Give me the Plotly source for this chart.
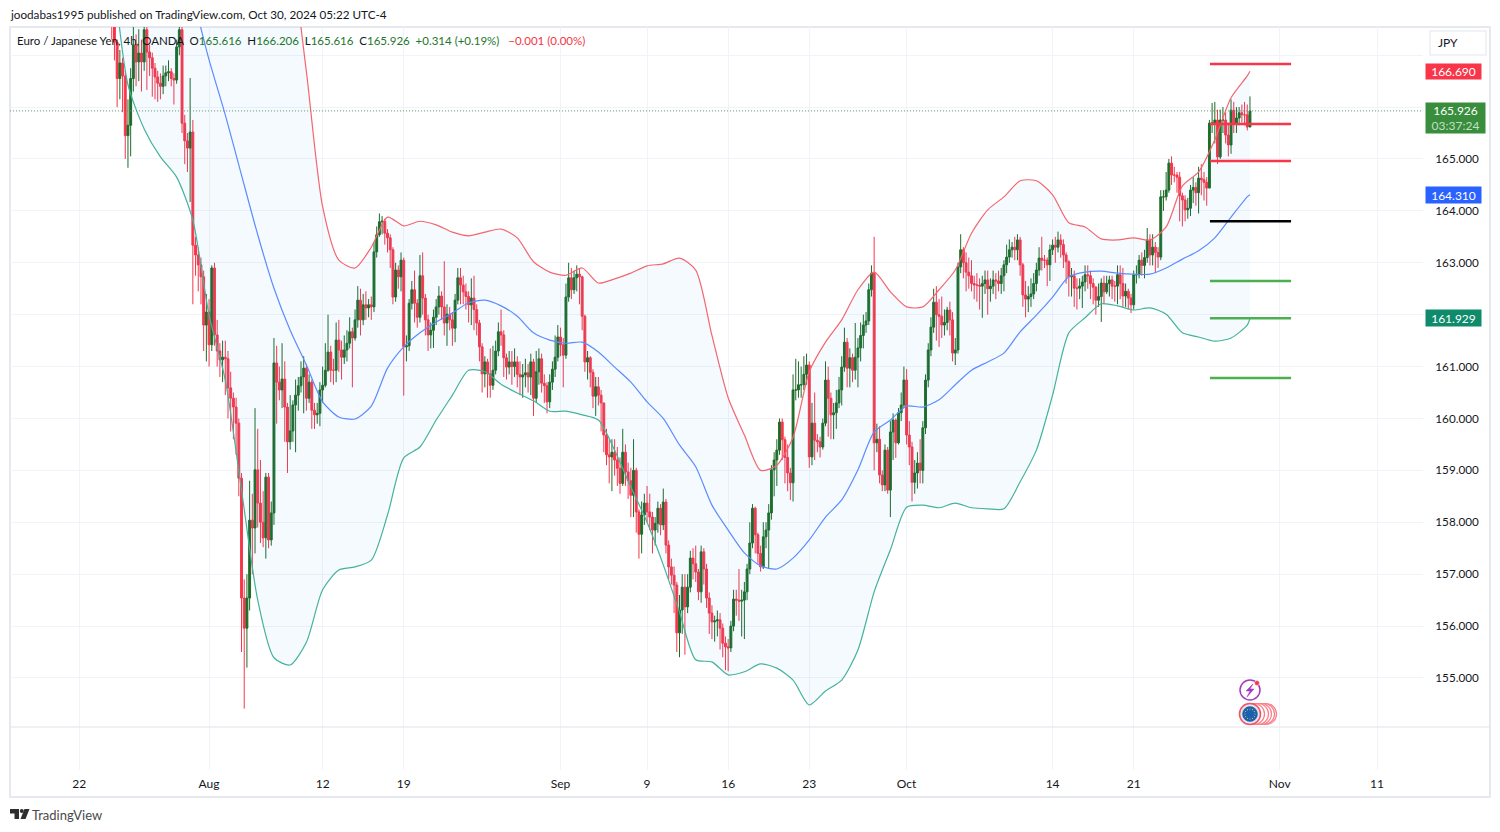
import math

import plotly.graph_objects as go

W, H = 1500, 832

# 4h bars, index 0 = Jul 22 (30 bars per trading week), first visible bar is 12
first_bar = 12
first_open = 168.1
closes = [
    167.85, 167.25, 166.55, 166.85, 166.6, 165.45, 165.65, 166.55, 167.2, 166.87, 167.04, 166.87, 167.49, 167.06, 166.95, 166.75, 166.58, 166.46,
    166.4, 166.6, 166.66, 166.68, 166.55, 166.52, 167.16, 167.49, 165.69, 165.35, 165.21, 165.52, 163.34, 163.15, 162.96, 162.73, 161.8, 162.05, 161.42, 162.9, 161.61, 161.3, 161.13, 161.18, 161.15, 160.59, 160.39, 160.22, 159.91, 158.85,
    156.54, 155.96, 156.54, 158.04, 157.89, 159.01, 158.37, 158.0, 157.7, 158.87, 157.66, 158.18, 161.07, 160.7, 160.55, 160.76, 160.22, 159.55, 159.76, 160.26, 160.45, 160.63, 160.8, 160.97, 160.39, 160.7, 160.16, 160.07, 160.1, 160.55,
    160.64, 160.93, 161.28, 160.93, 160.93, 161.51, 161.32, 161.18, 161.32, 161.45, 161.67, 161.55, 161.9, 162.28, 161.9, 162.19, 162.13, 162.19, 162.15, 163.21, 163.54, 163.79, 163.8, 163.57, 163.48, 163.25, 162.34, 162.86, 162.73, 163.05,
    161.38, 161.4, 162.22, 162.48, 162.22, 161.95, 162.75, 162.32, 161.9, 161.61, 161.7, 161.95, 162.15, 162.36, 162.15, 161.84, 162.01, 161.9, 161.74, 162.28, 162.71, 162.57, 162.44, 162.35, 162.19, 162.32, 162.1, 161.84, 161.38, 160.86,
    161.09, 160.86, 160.64, 160.93, 161.3, 161.67, 161.61, 161.17, 160.99, 161.09, 161.0, 161.09, 160.85, 160.8, 160.84, 160.88, 160.8, 161.09, 160.39, 160.9, 161.15, 160.68, 160.63, 160.32, 160.7, 160.95, 161.18, 161.57, 161.42, 161.22,
    162.34, 162.71, 162.48, 162.71, 162.78, 162.73, 161.97, 161.09, 161.17, 160.89, 160.43, 160.61, 160.45, 160.3, 159.68, 159.3, 159.26, 159.35, 159.2, 159.04, 158.75, 159.35, 158.97, 158.8, 158.52, 159.0, 158.2, 157.77, 158.14, 158.37,
    158.2, 158.1, 157.85, 157.98, 158.27, 157.95, 158.39, 157.56, 157.14, 156.98, 156.79, 155.87, 156.31, 156.75, 156.37, 156.75, 157.31, 157.2, 157.04, 156.66, 157.43, 157.1, 156.54, 156.25, 156.08, 156.1, 156.12, 155.96, 155.67, 155.6,
    155.58, 156.0, 156.52, 156.5, 156.48, 156.5, 156.66, 157.1, 157.6, 158.27, 157.76, 157.4, 157.14, 157.72, 157.85, 158.18, 159.01, 159.2, 159.39, 159.93, 159.59, 159.25, 158.95, 158.76, 160.55, 160.55, 160.65, 160.65, 160.85, 161.03,
    159.26, 159.91, 159.58, 159.55, 159.45, 159.91, 160.74, 160.39, 160.07, 160.11, 160.3, 160.55, 160.99, 161.47, 160.97, 161.17, 160.93, 161.18, 161.36, 161.6, 161.8, 161.88, 162.48, 162.8, 159.53, 159.6, 158.91, 158.72, 159.39, 158.62,
    159.74, 159.97, 159.53, 160.11, 160.26, 160.74, 159.68, 159.45, 158.77, 158.95, 159.14, 159.0, 159.82, 160.74, 161.32, 161.76, 162.24, 162.0, 161.97, 161.8, 161.85, 162.09, 161.9, 161.26, 161.32, 162.92, 163.25, 163.0, 162.82, 162.75,
    162.6, 162.57, 162.57, 162.55, 162.6, 162.67, 162.5, 162.55, 162.67, 162.65, 162.6, 162.75, 162.96, 163.11, 163.25, 163.3, 163.25, 163.44, 162.96, 162.38, 162.3, 162.35, 162.4, 162.6, 162.86, 163.09, 163.05, 163.05, 162.96, 163.25,
    163.34, 163.3, 163.44, 163.35, 163.15, 163.02, 162.73, 162.75, 162.51, 162.51, 162.55, 162.63, 162.77, 162.75, 162.6, 162.53, 162.28, 162.35, 162.61, 162.44, 162.6, 162.67, 162.55, 162.55, 162.77, 162.6, 162.36, 162.45, 162.32, 162.19,
    162.77, 162.77, 163.05, 162.95, 163.1, 163.44, 163.15, 163.3, 163.2, 163.11, 164.27, 164.27, 164.4, 164.92, 164.69, 164.69, 164.65, 164.29, 164.21, 164.02, 164.05, 164.4, 164.45, 164.35, 164.63, 164.6, 164.55, 164.44, 165.69, 165.69,
    165.75, 165.04, 165.75, 165.75, 165.46, 165.27, 165.94, 165.69, 165.79, 165.89, 165.85, 165.85, 165.616, 165.926,
]
highs = [
    168.1, 167.95, 167.3, 167.1, 166.95, 166.7, 166.15, 166.75, 167.55, 167.4, 167.5, 167.3, 167.7, 167.6, 167.2, 167.05, 166.85, 166.7,
    166.65, 166.8, 166.8, 166.9, 166.75, 166.65, 167.3, 167.9, 167.6, 165.85, 165.5, 166.56, 165.75, 163.5, 163.3, 163.1, 162.85, 162.4, 162.3, 162.95, 163.0, 161.9, 161.45, 161.5, 161.5, 161.3, 160.9, 160.5, 160.4, 160.0,
    158.95, 156.9, 157.0, 158.8, 158.55, 160.2, 159.8, 159.2, 158.6, 158.95, 158.95, 158.4, 161.55, 161.4, 161.0, 161.45, 161.1, 160.3, 160.45, 160.35, 160.75, 160.8, 161.1, 161.2, 161.05, 160.85, 160.75, 160.3, 160.3, 160.7,
    161.0, 161.45, 162.0, 161.4, 161.15, 161.85, 161.9, 161.5, 161.6, 161.7, 161.95, 161.75, 162.1, 162.55, 162.5, 162.4, 162.45, 162.3, 162.35, 163.4, 163.7, 163.95, 163.9, 163.85, 163.65, 163.55, 163.3, 163.0, 162.95, 163.2,
    163.1, 161.6, 162.3, 162.65, 162.85, 162.3, 163.15, 163.2, 162.4, 162.0, 161.85, 162.1, 162.3, 162.55, 162.45, 163.03, 162.2, 162.15, 162.05, 162.4, 162.9, 162.9, 162.75, 162.6, 162.45, 162.7, 162.75, 162.2, 161.9, 161.45,
    161.2, 161.15, 161.35, 161.4, 161.5, 161.85, 162.1, 161.7, 161.25, 161.3, 161.3, 161.35, 161.2, 161.1, 161.05, 161.15, 161.05, 161.25, 161.15, 161.3, 161.35, 161.25, 160.85, 160.7, 160.85, 161.1, 161.6, 161.8, 161.75, 161.55,
    162.6, 163.0, 162.9, 162.85, 162.95, 162.9, 162.75, 162.0, 161.3, 161.2, 160.95, 160.8, 160.8, 160.55, 160.3, 159.8, 159.6, 159.6, 159.6, 159.45, 159.25, 159.8, 159.5, 159.15, 159.05, 159.6, 159.05, 158.25, 158.4, 158.55,
    158.7, 158.55, 158.2, 158.1, 158.4, 158.35, 158.65, 158.45, 157.65, 157.3, 157.15, 156.85, 156.6, 157.0, 157.0, 157.0, 157.45, 157.5, 157.55, 157.1, 157.55, 157.5, 157.2, 156.65, 156.4, 156.2, 156.3, 156.25, 156.05, 155.8,
    155.75, 156.1, 156.7, 156.7, 157.1, 156.7, 156.85, 157.2, 158.0, 158.35, 158.3, 157.8, 157.55, 158.0, 158.0, 158.35, 159.1, 159.35, 159.6, 160.0, 160.0, 159.65, 159.5, 159.05, 160.85, 161.15, 161.1, 161.0, 161.2, 161.25,
    161.1, 160.3, 160.5, 159.7, 159.65, 160.0, 161.1, 161.0, 160.5, 160.3, 160.55, 160.8, 161.2, 161.75, 161.55, 161.35, 161.25, 161.84, 161.55, 161.85, 162.0, 162.05, 162.6, 162.95, 163.5, 159.9, 159.85, 159.0, 159.5, 159.45,
    159.95, 160.1, 160.0, 160.2, 160.5, 161.0, 160.95, 159.95, 159.55, 159.2, 159.35, 159.6, 159.95, 160.85, 161.45, 161.95, 162.5, 162.55, 162.3, 162.35, 162.1, 162.15, 162.25, 162.05, 161.55, 163.0, 163.55, 163.3, 163.2, 163.1,
    163.05, 162.75, 162.8, 162.7, 162.75, 162.85, 162.85, 162.7, 162.85, 162.8, 162.85, 162.9, 163.05, 163.35, 163.45, 163.4, 163.5, 163.55, 163.5, 163.0, 162.65, 162.55, 162.7, 162.8, 163.0, 163.3, 163.5, 163.15, 163.1, 163.35,
    163.45, 163.5, 163.6, 163.55, 163.45, 163.2, 163.05, 162.9, 162.85, 162.7, 162.7, 162.75, 162.95, 162.95, 162.85, 162.7, 162.55, 162.6, 162.7, 162.75, 162.75, 162.75, 162.75, 162.65, 162.95, 162.95, 162.9, 162.6, 162.5, 162.4,
    162.85, 162.95, 163.15, 163.2, 163.25, 163.67, 163.55, 163.55, 163.4, 163.3, 164.4, 164.4, 164.75, 165.0, 165.05, 164.85, 164.75, 164.75, 164.35, 164.3, 164.25, 164.5, 164.65, 164.55, 164.85, 164.9, 164.75, 164.65, 165.75, 166.08,
    166.1, 165.95, 165.95, 166.0, 165.9, 165.7, 166.15, 166.1, 166.0, 166.0, 166.05, 166.1, 166.05, 166.206,
]
lows = [
    167.3, 166.9, 166.0, 166.15, 165.9, 165.0, 164.83, 165.05, 166.3, 166.4, 166.5, 166.3, 166.7, 166.33, 166.6, 166.2, 166.15, 166.1,
    166.15, 166.25, 166.4, 166.5, 166.4, 166.05, 166.45, 167.0, 165.5, 164.9, 164.75, 164.17, 162.2, 162.75, 162.45, 162.2, 161.3, 161.1, 161.0, 161.3, 161.4, 161.0, 160.8, 160.7, 160.45, 160.0, 159.75, 159.6, 159.3, 158.5,
    155.5, 154.41, 155.2, 156.3, 157.0, 157.4, 157.9, 157.6, 157.52, 157.3, 157.5, 157.55, 157.95, 159.9, 160.35, 160.2, 159.55, 158.95, 159.4, 159.55, 159.35, 160.15, 160.5, 160.1, 160.15, 160.3, 159.8, 159.8, 159.9, 159.85,
    160.3, 160.6, 160.9, 160.7, 160.65, 160.7, 160.9, 160.75, 161.05, 161.1, 161.35, 160.6, 161.5, 161.75, 161.6, 161.8, 161.9, 161.95, 161.9, 162.05, 163.1, 163.5, 163.55, 163.35, 163.2, 162.9, 162.2, 162.25, 162.5, 162.45,
    160.44, 161.1, 161.3, 162.1, 161.85, 161.75, 161.85, 162.0, 161.6, 161.3, 161.35, 161.36, 161.8, 162.0, 161.9, 161.6, 161.4, 161.7, 161.4, 161.47, 162.2, 162.2, 162.2, 162.1, 161.85, 161.8, 161.7, 161.6, 161.1, 160.5,
    160.6, 160.4, 160.4, 160.55, 160.85, 161.2, 161.4, 160.8, 160.75, 160.85, 160.65, 160.8, 160.6, 160.45, 160.4, 160.6, 160.5, 160.45, 160.05, 160.3, 160.65, 160.5, 160.3, 160.1, 160.2, 160.55, 160.8, 161.1, 161.2, 160.6,
    161.15, 162.25, 162.3, 162.4, 162.45, 162.2, 161.7, 160.9, 160.75, 160.6, 160.2, 160.05, 160.25, 159.75, 159.35, 159.1, 158.75, 158.6, 158.9, 158.7, 158.55, 158.7, 158.7, 158.45, 158.1, 158.1, 157.8, 157.3, 157.4, 157.95,
    158.0, 157.85, 157.4, 157.55, 157.8, 157.75, 157.85, 157.4, 156.9, 156.8, 156.25, 155.5, 155.4, 155.85, 155.45, 156.25, 156.65, 156.9, 156.85, 156.5, 156.45, 156.8, 156.35, 155.85, 155.75, 155.7, 155.8, 155.55, 155.4, 155.15,
    155.13, 155.5, 155.9, 156.2, 156.1, 155.8, 155.75, 156.5, 157.0, 157.5, 157.4, 157.2, 157.05, 157.1, 157.5, 157.1, 158.05, 158.5, 158.7, 159.3, 159.2, 158.75, 158.6, 158.43, 158.4, 160.35, 160.4, 160.4, 160.55, 160.65,
    159.05, 159.1, 159.2, 159.35, 159.25, 159.4, 159.85, 159.65, 159.6, 159.6, 159.8, 160.2, 160.25, 160.9, 160.6, 160.6, 160.7, 160.75, 160.6, 161.1, 161.35, 161.65, 161.8, 162.35, 159.0, 159.35, 158.75, 158.6, 158.6, 158.55,
    158.1, 159.2, 159.24, 159.5, 159.95, 160.2, 159.5, 159.1, 158.4, 158.55, 158.65, 158.75, 158.75, 159.7, 160.6, 161.2, 161.65, 161.5, 161.38, 161.55, 161.6, 161.7, 161.6, 161.1, 161.03, 161.25, 162.8, 162.7, 162.45, 162.5,
    162.45, 162.3, 162.25, 162.1, 161.94, 162.4, 162.0, 162.25, 162.4, 162.3, 162.45, 162.4, 162.45, 162.8, 163.0, 163.1, 163.05, 163.05, 162.75, 162.15, 161.95, 162.05, 162.15, 162.3, 162.45, 162.75, 162.85, 162.9, 162.55, 162.65,
    163.15, 163.0, 163.2, 163.1, 162.9, 162.6, 162.35, 162.35, 162.15, 162.1, 162.3, 162.13, 162.45, 162.5, 162.3, 162.2, 162.0, 162.15, 161.86, 162.2, 162.4, 162.35, 162.3, 162.25, 162.2, 162.3, 162.15, 162.15, 162.1, 162.03,
    162.1, 162.6, 162.7, 162.75, 162.7, 163.0, 162.95, 162.95, 162.8, 162.9, 163.05, 164.0, 164.2, 164.35, 164.5, 164.55, 164.35, 163.8, 163.7, 163.8, 163.85, 163.9, 164.15, 164.1, 163.95, 164.3, 164.2, 164.1, 164.73, 165.5,
    165.3, 164.9, 165.0, 165.5, 165.3, 165.05, 165.1, 165.5, 165.5, 165.65, 165.7, 165.65, 165.55, 165.616,
]
opens = [first_open] + closes[:-1]
bar_idx = [first_bar + k for k in range(len(closes))]

# Bollinger bands, read every 6 bars
band_idx = list(range(12, 433, 6)) + [433]
band_upper = [
    173, 173, 173, 172.5, 172, 171.5, 171, 170.5, 170, 170, 170, 169,
    166.68, 164.08, 163.05, 162.9, 163.3, 163.88, 163.71, 163.8, 163.73, 163.59, 163.52, 163.59, 163.65, 163.48, 163.02, 162.82, 162.76, 162.9,
    162.61, 162.69, 162.8, 162.94, 162.98, 163.09, 162.86, 161.6, 160.4, 159.68, 159.0, 159.1, 159.64, 160.9, 161.47, 161.9, 162.48, 162.82, 162.44, 162.15,
    162.15, 162.48, 162.86, 163.57, 164.02, 164.27, 164.58, 164.58, 164.31, 163.77, 163.69, 163.46, 163.44, 163.48, 163.44, 163.69, 164.48, 164.75, 165.37, 166.18, 166.6, 166.69,
]
band_mid = [
    171, 171, 170.5, 170, 169, 168.1, 166.91, 165.85, 164.69, 163.54, 162.51, 161.7,
    161.03, 160.32, 160.03, 159.99, 160.24, 160.97, 161.38, 161.65, 161.86, 162.03, 162.23, 162.28, 162.17, 161.97, 161.65, 161.51, 161.45, 161.47,
    161.28, 160.99, 160.7, 160.32, 160.0, 159.49, 159.07, 158.33, 157.85, 157.41, 157.16, 157.1, 157.31, 157.66, 158.1, 158.43, 159.01, 159.74, 159.97, 160.24,
    160.22, 160.36, 160.65, 160.93, 161.09, 161.26, 161.67, 161.99, 162.34, 162.73, 162.82, 162.84, 162.8, 162.78, 162.78, 162.9, 163.07, 163.23, 163.48, 163.88, 164.27, 164.31,
]
band_lower = [
    168.9, 166.43, 165.58, 165.04, 164.65, 163.82, 161.99, 160.74, 158.62, 156.5, 155.39, 155.25,
    155.69, 156.7, 157.08, 157.14, 157.27, 158.14, 159.24, 159.45, 159.97, 160.45, 160.93, 160.9, 160.66, 160.49, 160.34, 160.14, 160.14, 160.07,
    159.97, 159.39, 158.68, 158.0, 157.18, 156.27, 155.35, 155.31, 155.06, 155.12, 155.27, 155.19, 154.96, 154.48, 154.75, 154.96, 155.54, 156.66, 157.47, 158.29,
    158.33, 158.28, 158.37, 158.28, 158.26, 158.26, 158.78, 159.39, 160.45, 161.65, 161.94, 162.21, 162.17, 162.09, 162.13, 162.01, 161.65, 161.57, 161.49, 161.55, 161.8, 161.93,
]

# horizontal levels drawn on the right
level_start, level_end = 418.2, 448.2
level_prices = [166.83, 165.675, 164.96, 163.80, 162.65, 161.93, 160.78]
level_colors = ["#f7364a", "#f7364a", "#f7364a", "#000000", "#4caf50", "#4caf50", "#4caf50"]

time_ticks = [0, 48, 90, 120, 178, 210, 240, 270, 306, 360, 390, 444, 480]
time_labels = ["22", "Aug", "12", "19", "Sep", "9", "16", "23", "Oct", "14", "21", "Nov", "11"]

price_ticks = [155, 156, 157, 158, 159, 160, 161, 162, 163, 164, 165, 166, 167]
price_labels = ["155.000", "156.000", "157.000", "158.000", "159.000", "160.000", "161.000", "",
                "163.000", "164.000", "165.000", "", ""]

last_price = 165.926
tag_upper = 166.690
tag_mid = 164.310
tag_lower = 161.929

FONT = "Lato"
TEXT = "#131722"
GRID = "#f0f3fa"
BORDER = "#e6e8f0"
UP = "#1e6b28"
DOWN = "#f7364a"
VAL_UP = "#22762c"


def px(x):
    return x / W


def py(y):
    return 1 - y / H


def circle(cx, cy, r, fill, line, width=1.0):
    return dict(type="circle", xref="paper", yref="paper", x0=px(cx - r), x1=px(cx + r),
                y0=py(cy + r), y1=py(cy - r), fillcolor=fill, line=dict(color=line, width=width))


def svg_path(points):
    # pixel points of the page -> paper path
    parts = [f"{px(x):.5f},{py(y):.5f}" for x, y in points]
    return "M" + " L".join(parts) + " Z"


fig = go.Figure()

band_line = dict(shape="spline", smoothing=0.7, width=1.2)
fig.add_trace(go.Scatter(x=band_idx, y=band_upper, mode="lines", line=dict(color="#f4666f", **band_line), hoverinfo="skip"))
fig.add_trace(go.Scatter(x=band_idx, y=band_lower, mode="lines", line=dict(color="#45b29c", **band_line),
                         fill="tonexty", fillcolor="rgba(33,150,243,0.05)", hoverinfo="skip"))
fig.add_trace(go.Scatter(x=band_idx, y=band_mid, mode="lines", line=dict(color="#5b8cff", **band_line), hoverinfo="skip"))

fig.add_trace(
    go.Candlestick(
        x=bar_idx,
        open=opens,
        high=highs,
        low=lows,
        close=closes,
        increasing=dict(line=dict(color=UP, width=1), fillcolor=UP),
        decreasing=dict(line=dict(color=DOWN, width=1), fillcolor=DOWN),
        whiskerwidth=0,
    )
)

for price, color in zip(level_prices, level_colors):
    fig.add_trace(go.Scatter(x=[level_start, level_end], y=[price, price], mode="lines",
                             line=dict(color=color, width=2.6), hoverinfo="skip"))

shapes = [
    # chart frame
    dict(type="rect", xref="paper", yref="paper", x0=px(10), x1=px(1490), y0=py(797), y1=py(27),
         line=dict(color=BORDER, width=2), fillcolor="rgba(0,0,0,0)", layer="below"),
    dict(type="line", xref="paper", yref="paper", x0=px(10), x1=px(1490), y0=py(727), y1=py(727),
         line=dict(color="#e0e3eb", width=1)),
    # last price line
    dict(type="line", xref="x", yref="y", x0=-25.6, x1=497, y0=last_price, y1=last_price,
         line=dict(color="#5f8f68", width=1, dash="1px,2px")),
    # currency button
    dict(type="rect", xref="paper", yref="paper", x0=px(1430), x1=px(1486), y0=py(55), y1=py(31),
         line=dict(color="#eceef4", width=1.5), fillcolor="#ffffff"),
    # lightning icon
    circle(1250, 690, 10, "#ffffff", "#a23bc4", 1.5),
    dict(type="path", xref="paper", yref="paper", fillcolor="#a23bc4", line=dict(color="#a23bc4", width=0.5),
         path=svg_path([(1253, 684), (1246, 691), (1250, 691), (1247, 697), (1254, 689), (1250, 689)])),
    circle(1257, 683, 2.5, "#f7364a", "#ffffff", 0.5),
]

# stacked event bubbles, right to left
for cx in [1266, 1264, 1261, 1258, 1254]:
    shapes.append(circle(cx, 714, 10.5, "#ffffff", "#fb7c88", 1.2))
shapes.append(circle(1250, 714, 10.5, "#dbe6f3", "#f7505f", 1.5))
shapes.append(circle(1250, 714, 7.5, "#1a5fb0", "#1a5fb0", 0.5))
for k in range(12):
    ang = 2 * math.pi * k / 12
    shapes.append(circle(1250 + 5 * math.cos(ang), 714 + 5 * math.sin(ang), 0.6, "#e8c42e", "#e8c42e", 0))

# TradingView logo
shapes.append(dict(type="path", xref="paper", yref="paper", fillcolor="#2e2e2e", line=dict(width=0),
                   path=svg_path([(10, 809), (19, 809), (19, 819), (14.5, 819), (14.5, 813.5), (10, 813.5)])))
shapes.append(circle(21.8, 811, 2, "#2e2e2e", "#2e2e2e", 0))
shapes.append(dict(type="path", xref="paper", yref="paper", fillcolor="#2e2e2e", line=dict(width=0),
                   path=svg_path([(24.5, 809), (29.5, 809), (25.5, 819), (20.5, 819)])))

legend_text = (
    f'<span style="color:{TEXT}">Euro / Japanese Yen, 4h, OANDA  O</span><span style="color:{VAL_UP}">165.616</span>'
    f'<span style="color:{TEXT}">  H</span><span style="color:{VAL_UP}">166.206</span>'
    f'<span style="color:{TEXT}">  L</span><span style="color:{VAL_UP}">165.616</span>'
    f'<span style="color:{TEXT}">  C</span><span style="color:{VAL_UP}">165.926  +0.314 (+0.19%)</span>'
    f'<span style="color:#f23645">   \u22120.001 (0.00%)</span>'
)

annotations = [
    dict(x=px(8), y=py(14), xref="paper", yref="paper", xanchor="left", yanchor="middle", showarrow=False,
         text="joodabas1995 published on TradingView.com, Oct 30, 2024 05:22 UTC-4",
         font=dict(family=FONT, size=11.7, color=TEXT)),
    dict(x=px(15), y=py(41), xref="paper", yref="paper", xanchor="left", yanchor="middle", showarrow=False,
         text=legend_text, font=dict(family=FONT, size=11.5, color=TEXT)),
    dict(x=px(1448), y=py(43), xref="paper", yref="paper", xanchor="center", yanchor="middle", showarrow=False,
         text="JPY", font=dict(family=FONT, size=12, color=TEXT)),
    dict(x=px(30), y=py(815), xref="paper", yref="paper", xanchor="left", yanchor="middle", showarrow=False,
         text="TradingView", font=dict(family=FONT, size=13, color="#4a4a4a")),
    dict(x=px(1453.5), y=tag_upper, xref="paper", yref="y", xanchor="center", yanchor="middle", showarrow=False,
         text=f"{tag_upper:.3f}", width=55, height=15, bgcolor="#f7364a", borderpad=0,
         font=dict(family=FONT, size=12, color="#ffffff")),
    dict(x=px(1455.5), y=last_price, yshift=-7, xref="paper", yref="y", xanchor="center", yanchor="middle", showarrow=False,
         text=f'{last_price:.3f}<br><span style="color:#c4dfc6">03:37:24</span>', width=59, height=30,
         bgcolor="#388e3c", borderpad=0, font=dict(family=FONT, size=12, color="#ffffff")),
    dict(x=px(1453.5), y=tag_mid, xref="paper", yref="y", xanchor="center", yanchor="middle", showarrow=False,
         text=f"{tag_mid:.3f}", width=55, height=16, bgcolor="#2962ff", borderpad=0,
         font=dict(family=FONT, size=12, color="#ffffff")),
    dict(x=px(1453.5), y=tag_lower, xref="paper", yref="y", xanchor="center", yanchor="middle", showarrow=False,
         text=f"{tag_lower:.3f}", width=55, height=16, bgcolor="#0f8a6b", borderpad=0,
         font=dict(family=FONT, size=12, color="#ffffff")),
]

fig.update_layout(
    width=W,
    height=H,
    margin=dict(l=0, r=0, t=0, b=0),
    paper_bgcolor="#ffffff",
    plot_bgcolor="#ffffff",
    showlegend=False,
    boxgap=0,
    shapes=shapes,
    annotations=annotations,
    font=dict(family=FONT, size=12, color=TEXT),
    xaxis=dict(
        domain=[px(10), px(1423)],
        range=[-25.63, 497.0],
        tickmode="array",
        tickvals=time_ticks,
        ticktext=time_labels,
        showgrid=True,
        gridcolor=GRID,
        gridwidth=1,
        zeroline=False,
        showline=False,
        ticks="outside",
        ticklen=3,
        tickcolor="rgba(0,0,0,0)",
        tickfont=dict(family=FONT, size=12, color=TEXT),
        rangeslider=dict(visible=False),
    ),
    yaxis=dict(
        domain=[py(770), py(27)],
        range=[153.227, 167.543],
        side="right",
        tickmode="array",
        tickvals=price_ticks,
        ticktext=price_labels,
        showgrid=True,
        gridcolor=GRID,
        gridwidth=1,
        zeroline=False,
        showline=False,
        ticks="outside",
        ticklen=9,
        tickcolor="rgba(0,0,0,0)",
        tickfont=dict(family=FONT, size=11.7, color=TEXT),
    ),
)

fig.write_html(
    "out.html",
    config={"displayModeBar": False},
    post_script="document.body.style.margin='0';document.body.style.overflow='hidden';",
)
